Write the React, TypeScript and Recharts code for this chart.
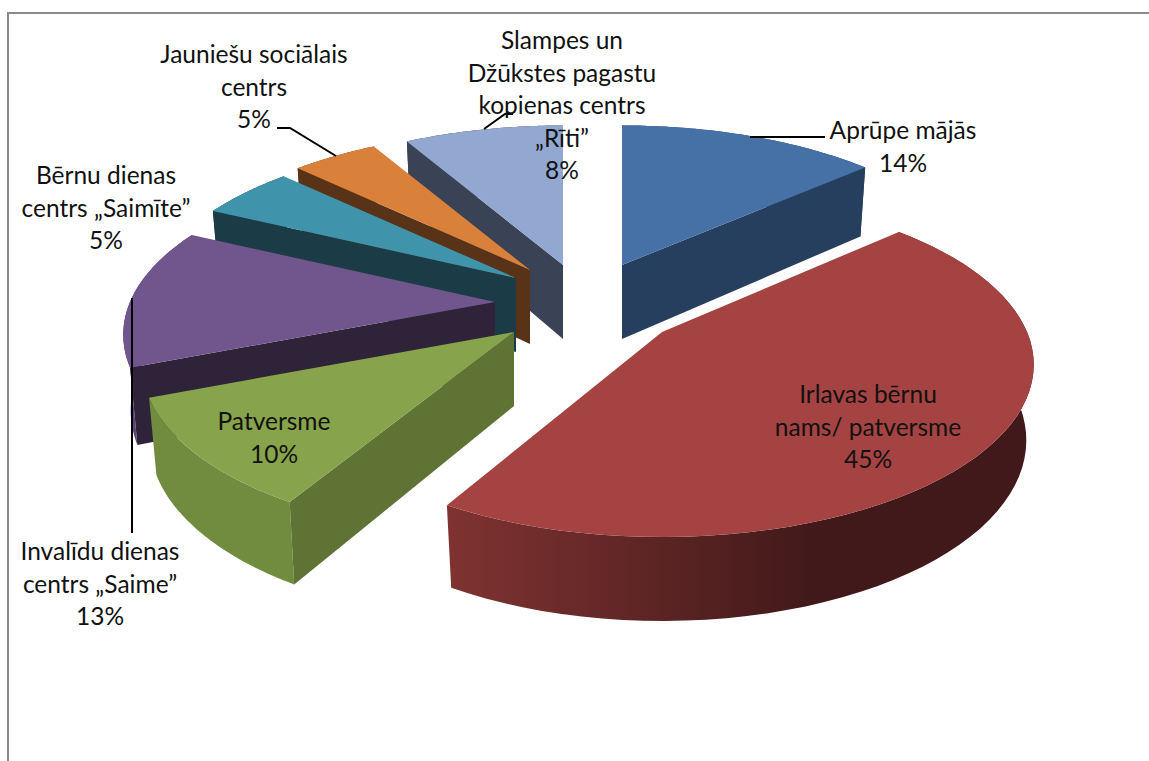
import React from 'react';
import { PieChart, Pie } from 'recharts';

// drawn counter-clockwise from the blue slice so the front slices paint last
const categories = [
  'Aprūpe mājās',
  'Slampes un Džūkstes pagastu kopienas centrs „Rīti”',
  'Jauniešu sociālais centrs',
  'Bērnu dienas centrs „Saimīte”',
  'Invalīdu dienas centrs „Saime”',
  'Patversme',
  'Irlavas bērnu nams/ patversme',
];
const shares = [13.5, 8.3, 4.5, 5, 13.2, 10.4, 45.1];
const labelLines = [
  ['Aprūpe mājās'],
  ['Slampes un', 'Džūkstes pagastu', 'kopienas centrs', '„Rīti”'],
  ['Jauniešu sociālais', 'centrs'],
  ['Bērnu dienas', 'centrs „Saimīte”'],
  ['Invalīdu dienas', 'centrs „Saime”'],
  ['Patversme'],
  ['Irlavas bērnu', 'nams/ patversme'],
];

const chartData = categories.map((name, i) => ({ name, value: shares[i] }));

const topColors = ['#4671a6', '#93a8d0', '#d9803a', '#3f93ab', '#70568c', '#87a44c', '#a54342'];
const sideColors = ['#263f5e', '#3a4256', '#583318', '#1b3b46', '#2e2339', '#5f7335', '#41191a'];
const wallFrom = ['#263f5e', '#3a4256', '#583318', '#1b3b46', '#5c4578', '#728c3f', '#7f3331'];
const wallTo = ['#263f5e', '#3a4256', '#583318', '#1b3b46', '#5c4578', '#728c3f', '#41191a'];
// how far each slice is pulled out of the pie
const explode = [
  [62, -35],
  [3, -35],
  [-30, -30],
  [-44, -22],
  [-65, 2],
  [-46, 32],
  [102, 32],
];
// the big slice sits slightly rotated in the original's perspective
const angleShift = [0, 0, 0, 0, 0, 0, 1.5];
const labelPos = [
  [903, 139],
  [562, 49],
  [254, 63],
  [106, 184],
  [100, 560],
  [274, 430],
  [868, 403],
];
const leaders = [
  '750,137 825,137',
  '484,129 505,114 513,114',
  '277,128 290,128 336,156',
  '',
  '132,298 132,533',
  '',
  '',
];

const PERSPECTIVE = 0.19;
const SQUASH = 0.455;
const DEPTH = 74;

function project(R: number, deg: number) {
  const a = (deg * Math.PI) / 180;
  const w = 1 + PERSPECTIVE * Math.sin(a);
  return { x: (R * Math.cos(a)) / w, y: (-R * SQUASH * Math.sin(a)) / w, w };
}

function lower(p: { x: number; y: number; w: number }) {
  return { x: p.x * 0.98, y: p.y + DEPTH * Math.pow(p.w, -0.6) };
}

const pts = (list: { x: number; y: number }[], ox: number, oy: number) =>
  list.map((p) => `${(p.x + ox).toFixed(1)},${(p.y + oy).toFixed(1)}`).join(' ');

function Slice3D(props: any) {
  const { cx, cy, outerRadius, index } = props;
  const startAngle = props.startAngle + angleShift[index];
  const endAngle = props.endAngle + angleShift[index];
  const ox = cx + explode[index][0];
  const oy = cy + explode[index][1];
  const steps = 60;
  const arc: any[] = [];
  for (let i = 0; i <= steps; i++) {
    arc.push(project(outerRadius, startAngle + ((endAngle - startAngle) * i) / steps));
  }
  const low = arc.map(lower);
  const apex = { x: 0, y: 0, w: 1 };
  const apexLow = lower(apex);
  const gradId = `wall-${index}`;
  const isFacing = (deg: number, sign: number) => sign * Math.cos((deg * Math.PI) / 180) > 0;

  return (
    <g>
      <defs>
        <linearGradient id={gradId} x1="0" y1="0" x2="0.63" y2="0">
          <stop offset="0" stopColor={wallFrom[index]} />
          <stop offset="1" stopColor={wallTo[index]} />
        </linearGradient>
      </defs>
      <polygon points={pts([...arc, ...[...low].reverse()], ox, oy)} fill={`url(#${gradId})`} />
      {isFacing(startAngle, 1) && (
        <polygon points={pts([apex, arc[0], low[0], apexLow], ox, oy)} fill={sideColors[index]} />
      )}
      {isFacing(endAngle, -1) && (
        <polygon points={pts([apex, arc[steps], low[steps], apexLow], ox, oy)} fill={sideColors[index]} />
      )}
      <polygon points={pts([apex, ...arc], ox, oy)} fill={topColors[index]} />
    </g>
  );
}

function SliceLabel(props: any) {
  const { index, value } = props;
  const [x, y] = labelPos[index];
  const lines = [...labelLines[index], `${Math.round(value)}%`];
  return (
    <g>
      {leaders[index] && <polyline points={leaders[index]} fill="none" stroke="#000" strokeWidth={2} />}
      <text x={x} y={y} textAnchor="middle" fontFamily="Lato" fontSize={24.5} fill="#111">
        {lines.map((line, i) => (
          <tspan key={i} x={x} y={y + i * 32.5}>
            {line}
          </tspan>
        ))}
      </text>
    </g>
  );
}

export default function App() {
  return (
    <div style={{ position: 'absolute', left: 0, top: 0, width: 1149, height: 761, background: '#fff' }}>
      <div
        style={{
          position: 'absolute',
          left: 7,
          top: 12,
          width: 1142,
          height: 749,
          boxSizing: 'border-box',
          borderLeft: '2px solid #8a8a8a',
          borderTop: '2px solid #8a8a8a',
        }}
      />
      <div style={{ position: 'absolute', left: 0, top: 0 }}>
        <PieChart width={1149} height={761} margin={{ top: 0, right: 0, bottom: 0, left: 0 }}>
          <Pie
            data={chartData}
            dataKey="value"
            nameKey="name"
            cx={560}
            cy={300}
            innerRadius={0}
            outerRadius={365}
            startAngle={41.4}
            endAngle={401.4}
            stroke="none"
            isAnimationActive={false}
            shape={Slice3D}
            label={SliceLabel}
            labelLine={false}
          />
        </PieChart>
      </div>
    </div>
  );
}
